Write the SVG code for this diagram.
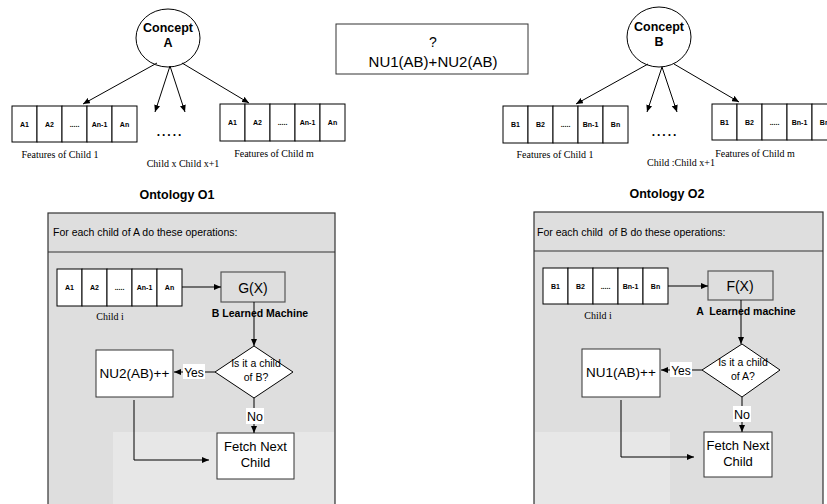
<svg xmlns="http://www.w3.org/2000/svg" width="827" height="504" viewBox="0 0 827 504">
<defs>
<marker id="ah" markerWidth="7" markerHeight="6" refX="7" refY="3" orient="auto" markerUnits="userSpaceOnUse">
<path d="M0,0 L7,3 L0,6 Z" fill="#000"/>
</marker>
<style>
.ln{stroke:#000;stroke-width:1;fill:none}
.cell{fill:#fff;stroke:#000;stroke-width:1}
.cl{font-family:"Liberation Sans",Arial,sans-serif;font-size:7px;font-weight:bold;text-anchor:middle}
.serif{font-family:"Liberation Serif","Times New Roman",serif;font-size:10px;text-anchor:middle}
.sans{font-family:"Liberation Sans",Arial,sans-serif;text-anchor:middle}
.hdr{font-family:"Liberation Sans",Arial,sans-serif;font-size:10.5px;text-anchor:start}
.bold{font-weight:bold}
.panel{fill:#dedede;stroke:#333;stroke-width:1.2}
.wbox{fill:#fff;stroke:#333;stroke-width:1}
.gbox{fill:#dedede;stroke:#555;stroke-width:1.2}
</style>
</defs>
<rect width="827" height="504" fill="#fff"/>

<!-- Top left: Concept A -->
<g id="conceptA">
<ellipse cx="168" cy="38" rx="32" ry="29" fill="#fff" stroke="#000"/>
<text class="sans bold" x="168" y="32" font-size="12.5">Concept</text>
<text class="sans bold" x="168" y="47" font-size="12.5">A</text>
</g>
<g id="featA1">
<rect class="cell" x="12" y="106" width="25" height="36"/>
<rect class="cell" x="37" y="106" width="25" height="36"/>
<rect class="cell" x="62" y="106" width="25" height="36"/>
<rect class="cell" x="87" y="106" width="25" height="36"/>
<rect class="cell" x="112" y="106" width="25" height="36"/>
<text class="cl" x="24.5" y="127">A1</text>
<text class="cl" x="49.5" y="127">A2</text>
<text class="cl" x="74.5" y="127">.....</text>
<text class="cl" x="99.5" y="127">An-1</text>
<text class="cl" x="124.5" y="127">An</text>
<text class="serif" x="60" y="158">Features of Child 1</text>
</g>
<g id="featAm">
<rect class="cell" x="220" y="104" width="25" height="37"/>
<rect class="cell" x="245" y="104" width="25" height="37"/>
<rect class="cell" x="270" y="104" width="25" height="37"/>
<rect class="cell" x="295" y="104" width="25" height="37"/>
<rect class="cell" x="320" y="104" width="25" height="37"/>
<text class="cl" x="232.5" y="125">A1</text>
<text class="cl" x="257.5" y="125">A2</text>
<text class="cl" x="282.5" y="125">.....</text>
<text class="cl" x="307.5" y="125">An-1</text>
<text class="cl" x="332.5" y="125">An</text>
<text class="serif" x="274" y="157">Features of Child m</text>
</g>
<g id="midA">
<text class="sans bold" x="170" y="136" font-size="12" letter-spacing="2">.....</text>
<text class="serif" x="183" y="167">Child x Child x+1</text>
</g>

<!-- Middle box -->
<g id="sumBox">
<rect x="336" y="24" width="192" height="50" fill="#fff" stroke="#333"/>
<text class="sans" x="433" y="47" font-size="14">?</text>
<text class="sans" x="433" y="67" font-size="15">NU1(AB)+NU2(AB)</text>
</g>

<!-- Top right: Concept B -->
<g id="conceptB">
<ellipse cx="659" cy="37" rx="32" ry="30" fill="#fff" stroke="#000"/>
<text class="sans bold" x="659" y="31" font-size="12.5">Concept</text>
<text class="sans bold" x="659" y="46" font-size="12.5">B</text>
</g>
<g id="featB1">
<rect class="cell" x="503" y="106" width="25" height="37"/>
<rect class="cell" x="528" y="106" width="25" height="37"/>
<rect class="cell" x="553" y="106" width="25" height="37"/>
<rect class="cell" x="578" y="106" width="25" height="37"/>
<rect class="cell" x="603" y="106" width="25" height="37"/>
<text class="cl" x="515.5" y="127">B1</text>
<text class="cl" x="540.5" y="127">B2</text>
<text class="cl" x="565.5" y="127">.....</text>
<text class="cl" x="590.5" y="127">Bn-1</text>
<text class="cl" x="615.5" y="127">Bn</text>
<text class="serif" x="555" y="158">Features of Child 1</text>
</g>
<g id="featBm">
<rect class="cell" x="712" y="104" width="25" height="36"/>
<rect class="cell" x="737" y="104" width="25" height="36"/>
<rect class="cell" x="762" y="104" width="25" height="36"/>
<rect class="cell" x="787" y="104" width="25" height="36"/>
<rect class="cell" x="812" y="104" width="25" height="36"/>
<text class="cl" x="724.5" y="125">B1</text>
<text class="cl" x="749.5" y="125">B2</text>
<text class="cl" x="774.5" y="125">.....</text>
<text class="cl" x="799.5" y="125">Bn-1</text>
<text class="cl" x="824.5" y="125">Bn</text>
<text class="serif" x="755" y="157">Features of Child m</text>
</g>
<g id="midB">
<text class="sans bold" x="665" y="136" font-size="12" letter-spacing="2">.....</text>
<text class="serif" x="681" y="166">Child :Child x+1</text>
</g>

<!-- Titles -->
<text id="titleO1" class="sans bold" x="177" y="199" font-size="12.5">Ontology O1</text>
<text id="titleO2" class="sans bold" x="667" y="198" font-size="12.5">Ontology O2</text>

<!-- Left panel -->
<g id="panelO1">
<rect class="panel" x="48" y="213" width="287" height="300"/>
<rect x="113" y="432" width="221" height="72" fill="#e7e7e7"/>
<line x1="48" y1="252" x2="335" y2="252" stroke="#333" stroke-width="1.2"/>
<text class="hdr" x="53" y="236">For each child of A do these operations:</text>
</g>
<g id="childA">
<rect class="cell" x="57" y="269" width="25" height="37"/>
<rect class="cell" x="82" y="269" width="25" height="37"/>
<rect class="cell" x="107" y="269" width="25" height="37"/>
<rect class="cell" x="132" y="269" width="25" height="37"/>
<rect class="cell" x="157" y="269" width="25" height="37"/>
<text class="cl" x="69.5" y="290">A1</text>
<text class="cl" x="94.5" y="290">A2</text>
<text class="cl" x="119.5" y="290">.....</text>
<text class="cl" x="144.5" y="290">An-1</text>
<text class="cl" x="169.5" y="290">An</text>
<text class="serif" x="110" y="320" font-size="11">Child i</text>
</g>
<g id="gx">
<rect class="gbox" x="221" y="272" width="64" height="30"/>
<text class="sans" x="253" y="293" font-size="14">G(X)</text>
<text class="sans bold" x="260" y="317" font-size="10.5">B Learned Machine</text>
</g>
<g id="diamondA">
<polygon points="254,346 293,372 254,398 215,372" fill="#fff" stroke="#000"/>
<text class="sans" x="256" y="367" font-size="10.5">Is it a child</text>
<text class="sans" x="256" y="381" font-size="10.5">of B?</text>
</g>
<g id="nu2">
<rect class="wbox" x="96" y="350" width="77" height="47"/>
<text class="sans" x="134.5" y="378" font-size="13.5">NU2(AB)++</text>
</g>
<g id="fetchA">
<rect class="wbox" x="217" y="433" width="77" height="46"/>
<text class="sans" x="255.5" y="451" font-size="13">Fetch Next</text>
<text class="sans" x="255.5" y="467" font-size="13">Child</text>
</g>

<!-- Right panel -->
<g id="panelO2">
<rect class="panel" x="534" y="212" width="289" height="300"/>
<rect x="535" y="432" width="135" height="72" fill="#e7e7e7"/>
<line x1="534" y1="251" x2="823" y2="251" stroke="#333" stroke-width="1.2"/>
<text class="hdr" x="537" y="236" xml:space="preserve">For each child  of B do these operations:</text>
</g>
<g id="childB">
<rect class="cell" x="543" y="268" width="25" height="36"/>
<rect class="cell" x="568" y="268" width="25" height="36"/>
<rect class="cell" x="593" y="268" width="25" height="36"/>
<rect class="cell" x="618" y="268" width="25" height="36"/>
<rect class="cell" x="643" y="268" width="25" height="36"/>
<text class="cl" x="555.5" y="289">B1</text>
<text class="cl" x="580.5" y="289">B2</text>
<text class="cl" x="605.5" y="289">.....</text>
<text class="cl" x="630.5" y="289">Bn-1</text>
<text class="cl" x="655.5" y="289">Bn</text>
<text class="serif" x="598" y="319" font-size="11">Child i</text>
</g>
<g id="fx">
<rect class="gbox" x="708" y="271" width="65" height="29"/>
<text class="sans" x="740" y="291" font-size="14">F(X)</text>
<text class="sans bold" x="746" y="315" font-size="10.5" xml:space="preserve">A  Learned machine</text>
</g>
<g id="diamondB">
<polygon points="742,344 780,370 742,397 702,370" fill="#fff" stroke="#000"/>
<text class="sans" x="743" y="366" font-size="10.5">Is it a child</text>
<text class="sans" x="743" y="380" font-size="10.5">of A?</text>
</g>
<g id="nu1">
<rect class="wbox" x="582" y="349" width="78" height="48"/>
<text class="sans" x="621" y="377" font-size="13.5">NU1(AB)++</text>
</g>
<g id="fetchB">
<rect class="wbox" x="704" y="432" width="68" height="45"/>
<text class="sans" x="738" y="450" font-size="13">Fetch Next</text>
<text class="sans" x="738" y="466" font-size="13">Child</text>
</g>

<!-- Connectors -->
<g id="connectors">
<line class="ln" x1="157" y1="63" x2="83" y2="104" marker-end="url(#ah)"/>
<line class="ln" x1="170" y1="66" x2="155" y2="112" marker-end="url(#ah)"/>
<line class="ln" x1="170" y1="66" x2="185" y2="112" marker-end="url(#ah)"/>
<line class="ln" x1="182" y1="63" x2="249" y2="103" marker-end="url(#ah)"/>

<line class="ln" x1="648" y1="64" x2="576" y2="104" marker-end="url(#ah)"/>
<line class="ln" x1="662" y1="67" x2="647" y2="112" marker-end="url(#ah)"/>
<line class="ln" x1="662" y1="67" x2="677" y2="112" marker-end="url(#ah)"/>
<line class="ln" x1="674" y1="64" x2="739" y2="102" marker-end="url(#ah)"/>

<line class="ln" x1="182" y1="287" x2="221" y2="287" marker-end="url(#ah)"/>
<line class="ln" x1="254" y1="302" x2="254" y2="346" marker-end="url(#ah)"/>
<line class="ln" x1="215" y1="372" x2="174" y2="372" marker-end="url(#ah)"/>
<rect x="183" y="364" width="22" height="15" fill="#fff"/>
<text class="sans" x="194" y="376.5" font-size="12">Yes</text>
<line class="ln" x1="254" y1="398" x2="254" y2="433" marker-end="url(#ah)"/>
<rect x="246" y="408" width="18" height="16" fill="#fff"/>
<text class="sans" x="255" y="421" font-size="12.5">No</text>
<polyline class="ln" points="134,400 134,460 209,460" marker-end="url(#ah)"/>

<line class="ln" x1="668" y1="286" x2="708" y2="286" marker-end="url(#ah)"/>
<line class="ln" x1="741" y1="300" x2="741" y2="344" marker-end="url(#ah)"/>
<line class="ln" x1="702" y1="370" x2="661" y2="370" marker-end="url(#ah)"/>
<rect x="670" y="362" width="22" height="15" fill="#fff"/>
<text class="sans" x="681" y="374.5" font-size="12">Yes</text>
<line class="ln" x1="742" y1="397" x2="742" y2="432" marker-end="url(#ah)"/>
<rect x="733" y="406" width="18" height="16" fill="#fff"/>
<text class="sans" x="742" y="419" font-size="12.5">No</text>
<polyline class="ln" points="621,400 621,457 694,457" marker-end="url(#ah)"/>
</g>
</svg>
